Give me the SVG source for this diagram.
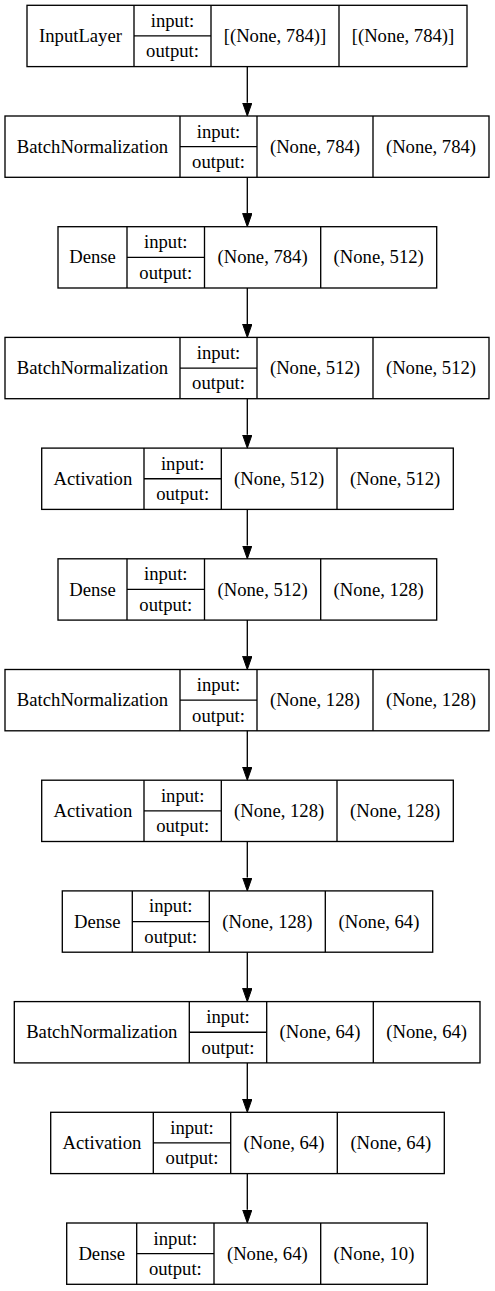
<svg xmlns="http://www.w3.org/2000/svg" width="495" height="1291" viewBox="0 0 495 1291">
<style>
.b{fill:none;stroke:#000;stroke-width:1.33}
.t{font-family:"Liberation Serif","Times New Roman",serif;font-size:18.67px;text-anchor:middle;fill:#000}
.e{stroke:#000;stroke-width:1.33;fill:none}
</style>
<defs>
<marker id="ah" markerUnits="userSpaceOnUse" markerWidth="14" markerHeight="10" refX="0" refY="4.67" orient="auto">
<path d="M0,0 L13.3,4.67 L0,9.33 z" fill="#000" stroke="#000" stroke-width="1"/>
</marker>
</defs>
<rect width="495" height="1291" fill="#fff"/>
<g id="edges">
<line class="e" x1="247.3" y1="66.6" x2="247.3" y2="102.7" marker-end="url(#ah)"/>
<line class="e" x1="247.3" y1="177.3" x2="247.3" y2="213.4" marker-end="url(#ah)"/>
<line class="e" x1="247.3" y1="288" x2="247.3" y2="324.1" marker-end="url(#ah)"/>
<line class="e" x1="247.3" y1="398.7" x2="247.3" y2="434.8" marker-end="url(#ah)"/>
<line class="e" x1="247.3" y1="509.4" x2="247.3" y2="545.5" marker-end="url(#ah)"/>
<line class="e" x1="247.3" y1="620.1" x2="247.3" y2="656.2" marker-end="url(#ah)"/>
<line class="e" x1="247.3" y1="730.8" x2="247.3" y2="766.9" marker-end="url(#ah)"/>
<line class="e" x1="247.3" y1="841.5" x2="247.3" y2="877.6" marker-end="url(#ah)"/>
<line class="e" x1="247.3" y1="952.2" x2="247.3" y2="988.3" marker-end="url(#ah)"/>
<line class="e" x1="247.3" y1="1062.9" x2="247.3" y2="1099" marker-end="url(#ah)"/>
<line class="e" x1="247.3" y1="1173.6" x2="247.3" y2="1209.7" marker-end="url(#ah)"/>
</g>
<g id="node1">
<rect class="b" x="27" y="5.3" width="440" height="61.3"/>
<path class="b" d="M134,5.3V66.6M211,5.3V66.6M339,5.3V66.6M134,35.95H211"/>
<text class="t" x="80.5" y="42">InputLayer</text>
<text class="t" x="172.5" y="26.8">input:</text>
<text class="t" x="172.5" y="57.3">output:</text>
<text class="t" x="275" y="42">[(None, 784)]</text>
<text class="t" x="403" y="42">[(None, 784)]</text>
</g>
<g id="node2">
<rect class="b" x="5" y="116" width="484" height="61.3"/>
<path class="b" d="M180,116V177.3M257,116V177.3M373,116V177.3M180,146.65H257"/>
<text class="t" x="92.5" y="152.7">BatchNormalization</text>
<text class="t" x="218.5" y="137.5">input:</text>
<text class="t" x="218.5" y="168">output:</text>
<text class="t" x="315" y="152.7">(None, 784)</text>
<text class="t" x="431" y="152.7">(None, 784)</text>
</g>
<g id="node3">
<rect class="b" x="58" y="226.7" width="378.7" height="61.3"/>
<path class="b" d="M127,226.7V288M204.5,226.7V288M320.7,226.7V288M127,257.35H204.5"/>
<text class="t" x="92.5" y="263.4">Dense</text>
<text class="t" x="165.75" y="248.2">input:</text>
<text class="t" x="165.75" y="278.7">output:</text>
<text class="t" x="262.6" y="263.4">(None, 784)</text>
<text class="t" x="378.7" y="263.4">(None, 512)</text>
</g>
<g id="node4">
<rect class="b" x="5" y="337.4" width="484" height="61.3"/>
<path class="b" d="M180,337.4V398.7M257,337.4V398.7M373,337.4V398.7M180,368.05H257"/>
<text class="t" x="92.5" y="374.1">BatchNormalization</text>
<text class="t" x="218.5" y="358.9">input:</text>
<text class="t" x="218.5" y="389.4">output:</text>
<text class="t" x="315" y="374.1">(None, 512)</text>
<text class="t" x="431" y="374.1">(None, 512)</text>
</g>
<g id="node5">
<rect class="b" x="41.7" y="448.1" width="411.6" height="61.3"/>
<path class="b" d="M144,448.1V509.4M221.3,448.1V509.4M337,448.1V509.4M144,478.75H221.3"/>
<text class="t" x="92.85" y="484.8">Activation</text>
<text class="t" x="182.65" y="469.6">input:</text>
<text class="t" x="182.65" y="500.1">output:</text>
<text class="t" x="279.15" y="484.8">(None, 512)</text>
<text class="t" x="395.15" y="484.8">(None, 512)</text>
</g>
<g id="node6">
<rect class="b" x="58" y="558.8" width="378.7" height="61.3"/>
<path class="b" d="M127,558.8V620.1M204.5,558.8V620.1M320.7,558.8V620.1M127,589.45H204.5"/>
<text class="t" x="92.5" y="595.5">Dense</text>
<text class="t" x="165.75" y="580.3">input:</text>
<text class="t" x="165.75" y="610.8">output:</text>
<text class="t" x="262.6" y="595.5">(None, 512)</text>
<text class="t" x="378.7" y="595.5">(None, 128)</text>
</g>
<g id="node7">
<rect class="b" x="5" y="669.5" width="484" height="61.3"/>
<path class="b" d="M180,669.5V730.8M257,669.5V730.8M373,669.5V730.8M180,700.15H257"/>
<text class="t" x="92.5" y="706.2">BatchNormalization</text>
<text class="t" x="218.5" y="691">input:</text>
<text class="t" x="218.5" y="721.5">output:</text>
<text class="t" x="315" y="706.2">(None, 128)</text>
<text class="t" x="431" y="706.2">(None, 128)</text>
</g>
<g id="node8">
<rect class="b" x="41.7" y="780.2" width="411.6" height="61.3"/>
<path class="b" d="M144,780.2V841.5M221.3,780.2V841.5M337,780.2V841.5M144,810.85H221.3"/>
<text class="t" x="92.85" y="816.9">Activation</text>
<text class="t" x="182.65" y="801.7">input:</text>
<text class="t" x="182.65" y="832.2">output:</text>
<text class="t" x="279.15" y="816.9">(None, 128)</text>
<text class="t" x="395.15" y="816.9">(None, 128)</text>
</g>
<g id="node9">
<rect class="b" x="62.3" y="890.9" width="370.4" height="61.3"/>
<path class="b" d="M132.3,890.9V952.2M209.3,890.9V952.2M325.3,890.9V952.2M132.3,921.55H209.3"/>
<text class="t" x="97.3" y="927.6">Dense</text>
<text class="t" x="170.8" y="912.4">input:</text>
<text class="t" x="170.8" y="942.9">output:</text>
<text class="t" x="267.3" y="927.6">(None, 128)</text>
<text class="t" x="379" y="927.6">(None, 64)</text>
</g>
<g id="node10">
<rect class="b" x="14.3" y="1001.6" width="465.7" height="61.3"/>
<path class="b" d="M189.3,1001.6V1062.9M266.7,1001.6V1062.9M373.3,1001.6V1062.9M189.3,1032.25H266.7"/>
<text class="t" x="101.8" y="1038.3">BatchNormalization</text>
<text class="t" x="228" y="1023.1">input:</text>
<text class="t" x="228" y="1053.6">output:</text>
<text class="t" x="320" y="1038.3">(None, 64)</text>
<text class="t" x="426.65" y="1038.3">(None, 64)</text>
</g>
<g id="node11">
<rect class="b" x="50.7" y="1112.3" width="393.6" height="61.3"/>
<path class="b" d="M153.3,1112.3V1173.6M230.7,1112.3V1173.6M337.3,1112.3V1173.6M153.3,1142.95H230.7"/>
<text class="t" x="102" y="1149">Activation</text>
<text class="t" x="192" y="1133.8">input:</text>
<text class="t" x="192" y="1164.3">output:</text>
<text class="t" x="284" y="1149">(None, 64)</text>
<text class="t" x="390.8" y="1149">(None, 64)</text>
</g>
<g id="node12">
<rect class="b" x="66.7" y="1223" width="360.6" height="61.3"/>
<path class="b" d="M136.7,1223V1284.3M214,1223V1284.3M320.7,1223V1284.3M136.7,1253.65H214"/>
<text class="t" x="101.7" y="1259.7">Dense</text>
<text class="t" x="175.35" y="1244.5">input:</text>
<text class="t" x="175.35" y="1275">output:</text>
<text class="t" x="267.35" y="1259.7">(None, 64)</text>
<text class="t" x="374" y="1259.7">(None, 10)</text>
</g>
</svg>
